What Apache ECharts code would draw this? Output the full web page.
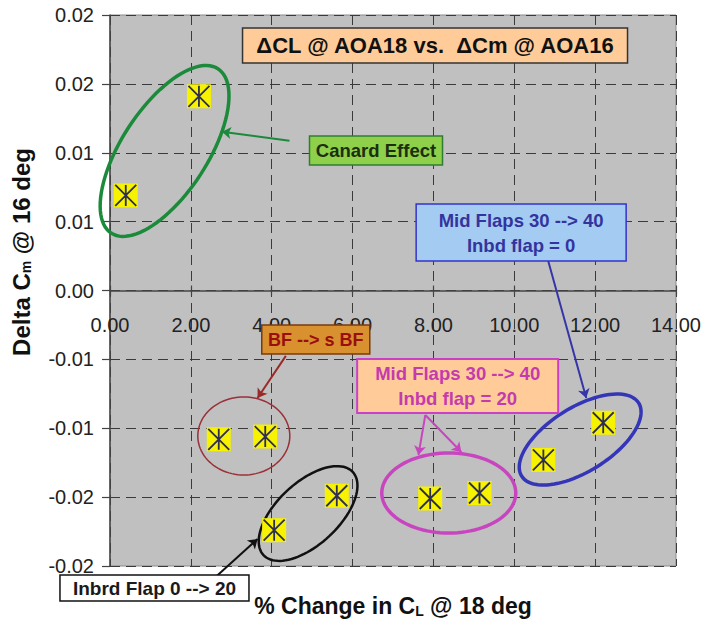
<!DOCTYPE html>
<html>
<head>
<meta charset="utf-8">
<script src="https://cdn.jsdelivr.net/npm/echarts@6/dist/echarts.min.js"></script>
<style>
  html, body { margin: 0; padding: 0; background: #ffffff; }
  #chart { width: 704px; height: 622px; }
</style>
</head>
<body>
<div id="chart"></div>
<script>
// Percent change in CL at AOA 18 (x) against delta Cm at AOA 16 (y)
const clChange = [0.39, 2.20, 2.69, 3.84, 4.06, 5.61, 7.92, 9.14, 10.72, 12.20];
const cmDelta  = [0.0069, 0.0141, -0.0108, -0.0106, -0.0174, -0.0149, -0.0151, -0.0147, -0.0123, -0.0096];

// Axis tick labels (two-decimal rounding of the 0.005 steps)
const xTickLabels = ['0.00', '2.00', '4.00', '6.00', '8.00', '10.00', '12.00', '14.00'];
const yTickLabels = ['-0.02', '-0.02', '-0.01', '-0.01', '0.00', '0.01', '0.01', '0.02', '0.02'];

const FONT = '"Liberation Sans", Arial, Helvetica, sans-serif';

// Plot layout
const GRID = { left: 110, right: 27, top: 15, bottom: 56 };
const CHART_H = 622;
const Y_MIN = -0.02, Y_MAX = 0.02;
// The horizontal axis sits on y = 0, so shift it up from the plot's lower edge
const plotH = CHART_H - GRID.top - GRID.bottom;
const xAxisShift = -plotH * (0 - Y_MIN) / (Y_MAX - Y_MIN);

// Group outlines: centre in data units, semi-axes in px, tilt in degrees
const groupRings = [
  { x: 1.35,  y: 0.01013,  a: 98, b: 43, rot: 57, color: '#1B8A3A', width: 3.5 },
  { x: 11.63, y: -0.01082, a: 69, b: 32, rot: 32, color: '#3535B8', width: 3.5 },
  { x: 4.90,  y: -0.01619, a: 61, b: 31, rot: 43, color: '#111111', width: 2.5 },
  { x: 3.31,  y: -0.01056, a: 46, b: 39, rot: 0,  color: '#9A3038', width: 1.5 },
  { x: 8.38,  y: -0.0147,  a: 67, b: 40, rot: 0,  color: '#C845C0', width: 3.5 }
];

// Call-out boxes: centre in data units, size in px
const callouts = [
  { x: 8.04, y: 0.01779,  w: 385, h: 35, lines: ['\u0394CL @ AOA18 vs.  \u0394Cm @ AOA16'],
    fill: '#FFCC99', stroke: '#333333', text: '#111111', size: 22, lw: 1.5 },
  { x: 6.58, y: 0.01016,  w: 133, h: 29, lines: ['Canard Effect'],
    fill: '#8ED04A', stroke: '#2E7D32', text: '#1C2E10', size: 18.5, lw: 1.5 },
  { x: 10.17, y: 0.00421, w: 210, h: 57, lines: ['Mid Flaps 30 --> 40', 'Inbd flap = 0'],
    fill: '#A4CCF2', stroke: '#3333CC', text: '#34349E', size: 18.5, lw: 1.5 },
  { x: 5.09, y: -0.00356, w: 108, h: 29, lines: ['BF --> s BF'],
    fill: '#D8912E', stroke: '#7A3A10', text: '#9A0E0E', size: 18, lw: 1.5 },
  { x: 8.60, y: -0.00693, w: 201, h: 54, lines: ['Mid Flaps 30 --> 40', 'Inbd flap = 20'],
    fill: '#FFCC99', stroke: '#CC40C8', text: '#C43BAE', size: 18.5, lw: 2 },
  { x: 1.10, y: -0.0216,  w: 189, h: 26, lines: ['Inbrd Flap 0 --> 20'],
    fill: '#FFFFFF', stroke: '#111111', text: '#1A1A1A', size: 19, lw: 1.5 }
];

// Pointer arrows from call-outs to their groups, in data units
const pointers = [
  { from: [4.44, 0.01087],  to: [2.77, 0.01152],  color: '#1B8A3A' },
  { from: [10.84, 0.00214], to: [11.78, -0.0078], color: '#3535A8' },
  { from: [4.35, -0.00475], to: [3.65, -0.0078],  color: '#9A2A2A' },
  { from: [7.80, -0.00904], to: [7.63, -0.01194], color: '#C845C0' },
  { from: [7.80, -0.00904], to: [8.69, -0.01172], color: '#C845C0' },
  { from: [2.64, -0.02073], to: [3.65, -0.01804], color: '#111111' }
];

const points = clChange.map((v, i) => [v, cmDelta[i]]);

const chart = echarts.init(document.getElementById('chart'), null, { renderer: 'svg' });

const gridDash = { color: '#3A3A3A', width: 1, type: [10, 6] };
const subStyle = { fontSize: 14, fontWeight: 'bold', fontFamily: FONT, fill: '#111111', verticalAlign: 'bottom', padding: [10, 0, 0, 0] };

chart.setOption({
  animation: false,
  backgroundColor: '#ffffff',
  textStyle: { fontFamily: FONT },
  grid: {
    left: GRID.left, right: GRID.right, top: GRID.top, bottom: GRID.bottom,
    show: true, backgroundColor: '#C0C0C0', borderColor: '#8A8A8A', borderWidth: 1
  },
  xAxis: [
    {
      type: 'value', min: 0, max: 14, interval: 2,
      position: 'bottom', offset: xAxisShift,
      axisLine: { show: true, onZero: false, lineStyle: { color: '#444444', width: 1.5 } },
      axisTick: { show: true, length: 5, lineStyle: { color: '#444444', width: 1.2 } },
      axisLabel: {
        margin: 24, fontSize: 20, color: '#222222', fontFamily: FONT,
        formatter: v => xTickLabels[Math.round(v / 2)]
      },
      splitLine: { show: true, lineStyle: gridDash }
    },
    {
      // upper half of the ticks that cross the zero line
      type: 'value', min: 0, max: 14, interval: 2,
      position: 'bottom', offset: xAxisShift,
      axisLine: { show: false, onZero: false },
      axisTick: { show: true, inside: true, length: 5, lineStyle: { color: '#444444', width: 1.2 } },
      axisLabel: { show: false },
      splitLine: { show: false }
    }
  ],
  yAxis: {
    type: 'value', min: Y_MIN, max: Y_MAX, interval: 0.005,
    axisLine: { show: true, onZero: false, lineStyle: { color: '#444444', width: 1.5 } },
    axisTick: { show: true, length: 8, lineStyle: { color: '#444444', width: 1.2 } },
    axisLabel: {
      margin: 16, fontSize: 20, color: '#222222', fontFamily: FONT,
      formatter: v => yTickLabels[Math.round((v - Y_MIN) / 0.005)]
    },
    splitLine: { show: true, lineStyle: gridDash }
  },
  graphic: [
    {
      type: 'text', x: 21, y: 252, rotation: Math.PI / 2, silent: true,
      style: {
        text: 'Delta C{sub|m} @ 16 deg',
        align: 'center', verticalAlign: 'middle',
        fontSize: 24, fontWeight: 'bold', fontFamily: FONT, fill: '#111111',
        rich: { sub: subStyle }
      }
    },
    {
      type: 'text', x: 393, y: 606, silent: true,
      style: {
        text: '% Change in C{sub|L} @ 18 deg',
        align: 'center', verticalAlign: 'middle',
        fontSize: 23, fontWeight: 'bold', fontFamily: FONT, fill: '#111111',
        rich: { sub: subStyle }
      }
    }
  ],
  series: [
    {
      // group outlines
      type: 'custom', coordinateSystem: 'cartesian2d', clip: false, silent: true, z: 2,
      data: groupRings.map(g => [g.x, g.y]),
      renderItem: (params, api) => {
        const g = groupRings[params.dataIndex];
        const c = api.coord([api.value(0), api.value(1)]);
        const th = g.rot * Math.PI / 180;
        const pts = [];
        for (let i = 0; i < 96; i++) {
          const t = i / 96 * 2 * Math.PI;
          const ex = g.a * Math.cos(t), ey = g.b * Math.sin(t);
          pts.push([c[0] + ex * Math.cos(th) - ey * Math.sin(th),
                    c[1] - (ex * Math.sin(th) + ey * Math.cos(th))]);
        }
        return { type: 'polygon', shape: { points: pts },
                 style: { fill: 'none', stroke: g.color, lineWidth: g.width } };
      }
    },
    {
      // arrows
      type: 'lines', coordinateSystem: 'cartesian2d', clip: false, silent: true, z: 3,
      symbol: ['none', 'arrow'], symbolSize: 9,
      lineStyle: { width: 2, opacity: 1, curveness: 0 },
      data: pointers.map(p => ({ coords: [p.from, p.to], lineStyle: { color: p.color, width: 2 } }))
    },
    {
      // yellow marker squares
      type: 'scatter', silent: true, z: 4,
      symbol: 'rect', symbolSize: 24,
      itemStyle: { color: '#F6F200', opacity: 1 },
      data: points
    },
    {
      // asterisk over each marker
      type: 'scatter', silent: true, z: 5,
      symbol: 'path://M0,0L20,20M20,0L0,20M10,0L10,20', symbolSize: 21,
      itemStyle: { color: 'rgba(0,0,0,0)', borderColor: '#2E2E52', borderWidth: 1.8, opacity: 1 },
      data: points
    },
    {
      // call-out boxes
      type: 'custom', coordinateSystem: 'cartesian2d', clip: false, silent: true, z: 6,
      data: callouts.map(b => [b.x, b.y]),
      renderItem: (params, api) => {
        const b = callouts[params.dataIndex];
        const c = api.coord([api.value(0), api.value(1)]);
        const children = [{
          type: 'rect',
          shape: { x: c[0] - b.w / 2, y: c[1] - b.h / 2, width: b.w, height: b.h },
          style: { fill: b.fill, stroke: b.stroke, lineWidth: b.lw }
        }];
        const lh = 25;
        b.lines.forEach((ln, i) => {
          children.push({
            type: 'text',
            style: {
              text: ln, x: c[0], y: c[1] + (i - (b.lines.length - 1) / 2) * lh,
              align: 'center', verticalAlign: 'middle',
              fontSize: b.size, fontWeight: 'bold', fontFamily: FONT, fill: b.text
            }
          });
        });
        return { type: 'group', children };
      }
    }
  ]
});
</script>
</body>
</html>
